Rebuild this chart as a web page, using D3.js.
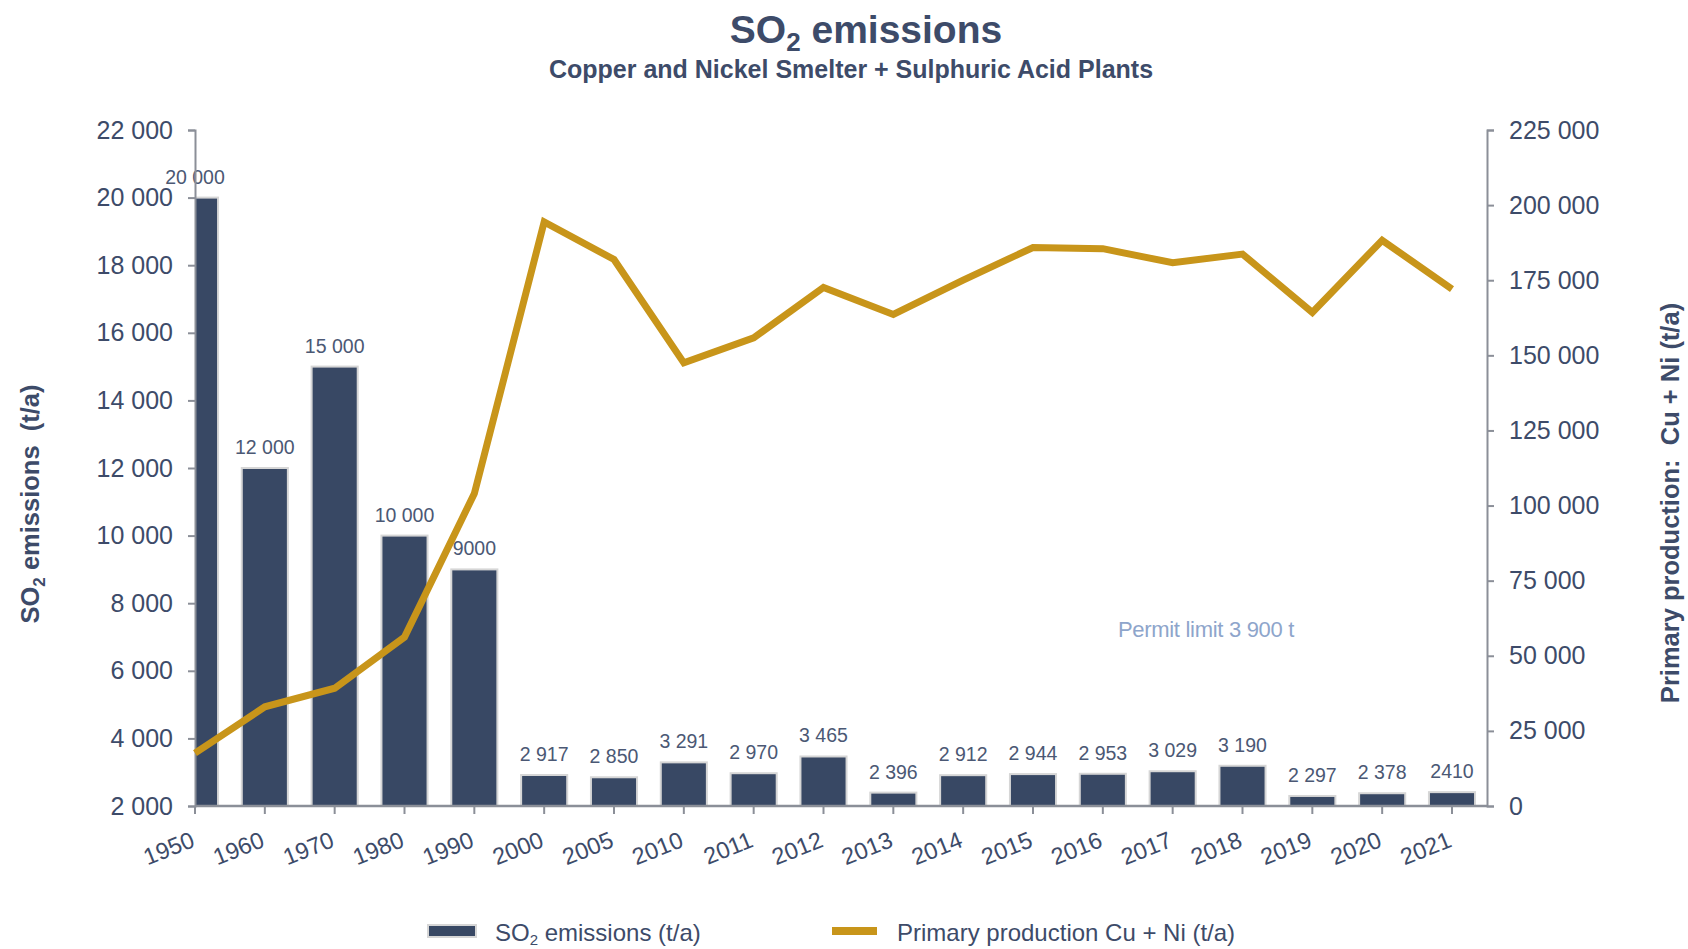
<!DOCTYPE html>
<html>
<head>
<meta charset="utf-8">
<script src="https://cdn.jsdelivr.net/npm/d3@7"></script>
<style>
  body { margin: 0; background: #fff; }
  svg { font-family: Arial, "Liberation Sans", sans-serif; }
</style>
</head>
<body>
<div id="chart"></div>
<script>
const years = ["1950","1960","1970","1980","1990","2000","2005","2010","2011","2012","2013","2014","2015","2016","2017","2018","2019","2020","2021"];
const so2 = [20000, 12000, 15000, 10000, 9000, 2917, 2850, 3291, 2970, 3465, 2396, 2912, 2944, 2953, 3029, 3190, 2297, 2378, 2410];
const so2Labels = ["20 000","12 000","15 000","10 000","9000","2 917","2 850","3 291","2 970","3 465","2 396","2 912","2 944","2 953","3 029","3 190","2 297","2 378","2410"];
const production = [17600, 33000, 39200, 56200, 104000, 194400, 181900, 147500, 155800, 172600, 163600, 175000, 185900, 185500, 180800, 183700, 164300, 188300, 172000];
const leftTicks = d3.range(2000, 22001, 2000);
const rightTicks = d3.range(0, 225001, 25000);

const W = 1688, H = 949;
const plotLeft = 195, plotRight = 1487, plotTop = 130, plotBottom = 806;
const textColor = "#3d4b69", axisColor = "#8b8f98";
const barColor = "#384864", lineColor = "#c8951a";

const fmt = d3.formatLocale({ decimal: ".", thousands: " ", grouping: [3], currency: ["", ""] }).format(",d");

const svg = d3.select("#chart").append("svg")
    .attr("width", W)
    .attr("height", H);

const x = d3.scalePoint().domain(years).range([plotLeft, 1452]);
const barW = x.step() * 0.66;
const yL = d3.scaleLinear().domain([2000, 22000]).range([plotBottom, plotTop]);
const yR = d3.scaleLinear().domain([0, 225000]).range([plotBottom, plotTop]);

svg.append("clipPath").attr("id", "plot")
    .append("rect").attr("x", plotLeft).attr("y", 0).attr("width", plotRight - plotLeft).attr("height", plotBottom);

// bars
svg.append("g").attr("clip-path", "url(#plot)")
    .selectAll("rect")
    .data(years)
    .enter()
    .append("rect")
    .attr("x", (d) => x(d) - barW / 2)
    .attr("width", barW)
    .attr("y", (d, i) => yL(so2[i]))
    .attr("height", (d, i) => plotBottom - yL(so2[i]))
    .attr("fill", barColor)
    .attr("stroke", "#d6d6d6")
    .attr("stroke-width", 2);

// bar labels
svg.append("g")
    .selectAll("text")
    .data(years)
    .enter()
    .append("text")
    .attr("x", (d) => x(d))
    .attr("y", (d, i) => yL(so2[i]) - 14)
    .attr("text-anchor", "middle")
    .style("font-size", "19.5px")
    .attr("fill", "#4b5874")
    .text((d, i) => so2Labels[i]);

// left axis
const gL = svg.append("g")
    .attr("transform", `translate(${plotLeft},0)`)
    .call(d3.axisLeft(yL).tickValues(leftTicks).tickFormat(fmt).tickSize(7).tickPadding(15));
gL.select(".domain").attr("stroke", axisColor).attr("stroke-width", 2);
gL.selectAll(".tick line").attr("stroke", axisColor).attr("stroke-width", 2);
gL.selectAll("text").attr("fill", textColor).style("font-size", "25px");

// right axis
const gR = svg.append("g")
    .attr("transform", `translate(${plotRight},0)`)
    .call(d3.axisRight(yR).tickValues(rightTicks).tickFormat(fmt).tickSize(7).tickPadding(15));
gR.select(".domain").attr("stroke", axisColor).attr("stroke-width", 2);
gR.selectAll(".tick line").attr("stroke", axisColor).attr("stroke-width", 2);
gR.selectAll("text").attr("fill", textColor).style("font-size", "25px");

// x axis
const gX = svg.append("g").attr("transform", `translate(0,${plotBottom})`);
gX.append("line")
    .attr("x1", plotLeft).attr("x2", plotRight)
    .attr("stroke", axisColor).attr("stroke-width", 2.5);
gX.selectAll(".xt")
    .data(years)
    .enter()
    .append("line")
    .attr("x1", (d) => x(d)).attr("x2", (d) => x(d))
    .attr("y1", 0).attr("y2", 8)
    .attr("stroke", axisColor).attr("stroke-width", 2);
gX.selectAll("text")
    .data(years)
    .enter()
    .append("text")
    .attr("transform", (d) => `translate(${x(d) + 1},40) rotate(-22)`)
    .attr("text-anchor", "end")
    .style("font-size", "23.5px")
    .attr("fill", textColor)
    .text((d) => d);

// production line
const line = d3.line()
    .x((d, i) => x(years[i]))
    .y((d) => yR(d));
svg.append("path")
    .datum(production)
    .attr("d", line)
    .attr("fill", "none")
    .attr("stroke", lineColor)
    .attr("stroke-width", 7);

// permit note
svg.append("text")
    .attr("x", 1206)
    .attr("y", 637)
    .attr("text-anchor", "middle")
    .style("font-size", "22px")
    .style("letter-spacing", "-0.3px")
    .attr("fill", "#8ea5cb")
    .text("Permit limit 3 900 t");

// titles
const title = svg.append("text")
    .attr("x", 866)
    .attr("y", 43)
    .attr("text-anchor", "middle")
    .style("font-size", "39px")
    .style("font-weight", "bold")
    .attr("fill", textColor);
title.append("tspan").text("SO");
title.append("tspan").attr("dy", 8).style("font-size", "26px").text("2");
title.append("tspan").attr("dy", -8).text(" emissions");

svg.append("text")
    .attr("x", 851)
    .attr("y", 78)
    .attr("text-anchor", "middle")
    .style("font-size", "25px")
    .style("font-weight", "bold")
    .attr("fill", textColor)
    .text("Copper and Nickel Smelter + Sulphuric Acid Plants");

const yTitle = svg.append("text")
    .attr("transform", "translate(39,504) rotate(-90)")
    .attr("text-anchor", "middle")
    .style("font-size", "25.5px")
    .style("font-weight", "bold")
    .style("white-space", "pre")
    .attr("fill", textColor);
yTitle.append("tspan").text("SO");
yTitle.append("tspan").attr("dy", 6).style("font-size", "17px").text("2");
yTitle.append("tspan").attr("dy", -6).text(" emissions  (t/a)");

svg.append("text")
    .attr("transform", "translate(1679,503) rotate(-90)")
    .attr("text-anchor", "middle")
    .style("font-size", "25.5px")
    .style("font-weight", "bold")
    .style("white-space", "pre")
    .attr("fill", textColor)
    .text("Primary production:  Cu + Ni (t/a)");

// legend
const leg = svg.append("g");
leg.append("rect")
    .attr("x", 428).attr("y", 925).attr("width", 48).attr("height", 12)
    .attr("fill", barColor).attr("stroke", "#d6d6d6").attr("stroke-width", 2);
const l1 = leg.append("text")
    .attr("x", 495).attr("y", 941)
    .style("font-size", "24px")
    .attr("fill", textColor);
l1.append("tspan").text("SO");
l1.append("tspan").attr("dy", 4).style("font-size", "15px").text("2");
l1.append("tspan").attr("dy", -4).text(" emissions (t/a)");

leg.append("line")
    .attr("x1", 832).attr("x2", 877).attr("y1", 931).attr("y2", 931)
    .attr("stroke", lineColor).attr("stroke-width", 8);
leg.append("text")
    .attr("x", 897).attr("y", 941)
    .style("font-size", "24px")
    .attr("fill", textColor)
    .text("Primary production Cu + Ni (t/a)");
</script>
</body>
</html>
